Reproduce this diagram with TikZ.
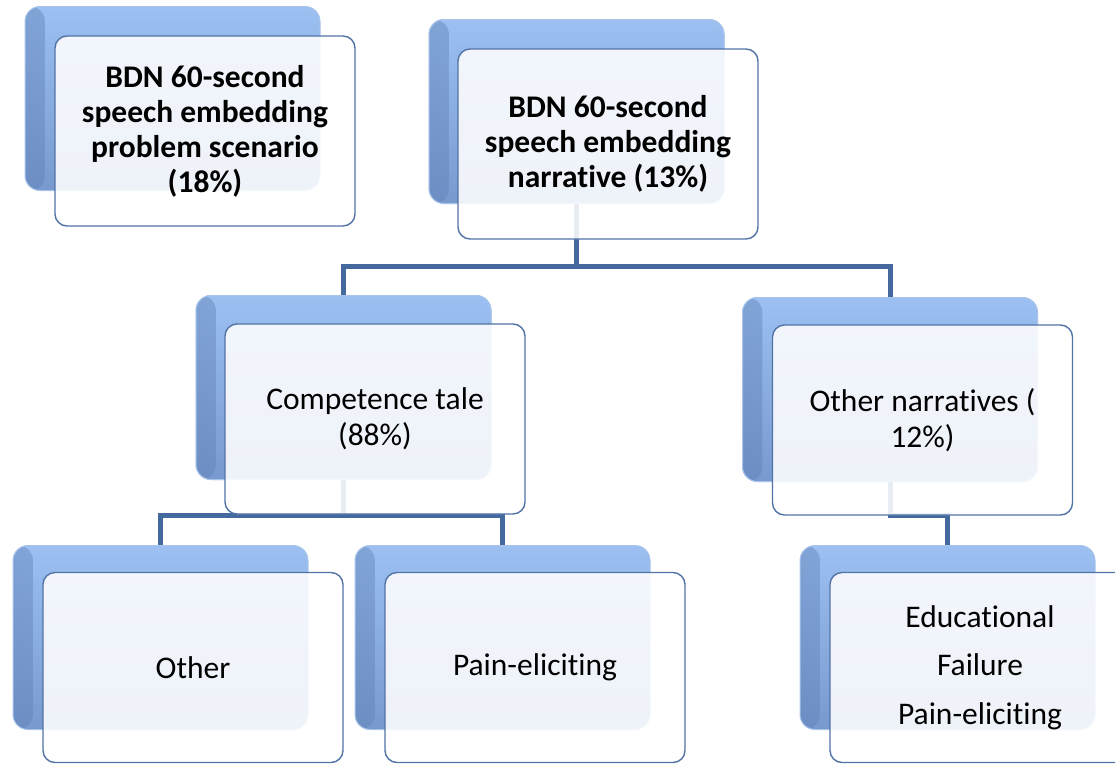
\documentclass[tikz,border=0pt]{standalone}
\usepackage{fontspec}
\setmainfont{Carlito}[Ligatures={NoCommon,NoRare,NoContextual}, Contextuals=NoAlternate]
\usetikzlibrary{fadings}
\definecolor{bluetop}{HTML}{9CC0F1}
\definecolor{bluebot}{HTML}{7899CE}
\definecolor{bluedark}{HTML}{5F80B6}
\definecolor{bluerim}{HTML}{A8C4EA}
\definecolor{frontrim}{HTML}{5273A6}
\definecolor{linkblue}{HTML}{43699E}
% keeps "t" and "i" as separate glyphs
\newcommand{\tsep}{t\kern0pt i}
\tikzfading[name=fadeout right, left color=transparent!0, right color=transparent!100]
\tikzset{
  backbox/.style={rectangle, rounded corners=15pt, minimum width=295pt, minimum height=184pt,
    top color=bluetop, bottom color=bluebot, draw=bluerim, line width=1pt,
    path picture={\fill[bluedark, path fading=fadeout right, fill opacity=0.45]
      (path picture bounding box.south west) rectangle ([xshift=20pt]path picture bounding box.north west);}},
  frontbox/.style={rectangle, rounded corners=12pt, minimum width=300pt, minimum height=190pt,
    fill=white, fill opacity=0.88, text opacity=1, draw=frontrim, draw opacity=1, line width=1.4pt,
    align=center, inner sep=4pt, font=\fontsize{31.5}{36}\selectfont},
  boldtext/.style={font=\fontsize{31.5}{35}\selectfont\bfseries},
  conn/.style={draw=linkblue, line width=5pt}
}
\begin{document}
\begin{tikzpicture}[x=1pt, y=-1pt]
\useasboundingbox (0,0) rectangle (1115,763);
\clip (0,0) rectangle (1115,763);

% heights of the horizontal runs of the elbow connectors
\coordinate (h1) at (0,266);
\coordinate (h2) at (0,515);

% back (blue) cards
\node[backbox] (b1) at (172.5,98.5) {};
\node[backbox] (b2) at (576.5,111.5) {};
\node[backbox] (b3) at (343.5,387.5) {};
\node[backbox] (b4) at (890,389.5) {};
\node[backbox] (b5) at (160.5,637.5) {};
\node[backbox] (b6) at (502.5,637.5) {};
\node[backbox] (b7) at (947.5,637.5) {};

% connectors
\draw[conn] (b2.south) -- (b2.south |- h1) -| (b3.north);
\draw[conn] (b2.south |- h1) -| (b4.north);
\draw[conn] (b3.south) -- (b3.south |- h2) -| (b5.north);
\draw[conn] (b3.south |- h2) -| (b6.north);
\draw[conn] (b4.south) -- (b4.south |- h2) -| (b7.north);

% back cards again, over the connector ends
\node[backbox] at (b2) {};
\node[backbox] at (b3) {};
\node[backbox] at (b4) {};

% front (white) cards with the labels
\node[frontbox, boldtext] (f1) at (205,131) {BDN 60-second\\speech embedding\\problem scenario\\(18\%)};
\node[frontbox, boldtext] (f2) at (608,144) {BDN 60-second\\speech embedding\\narra\tsep ve (13\%)};
\node[frontbox] (f3) at (375,419) {Competence tale\\(88\%)};
\node[frontbox] (f4) at (922.5,420) {Other narra\tsep ves (\\12\%)};
\node[frontbox] (f5) at (193,667.5) {Other};
\node[frontbox] (f6) at (535,667.5) {Pain-elici\tsep ng};
\node[frontbox, font=\fontsize{31.5}{48.5}\selectfont] (f7) at (980,667.5) {Educa\tsep onal\\Failure\\Pain-elici\tsep ng};
\end{tikzpicture}
\end{document}
